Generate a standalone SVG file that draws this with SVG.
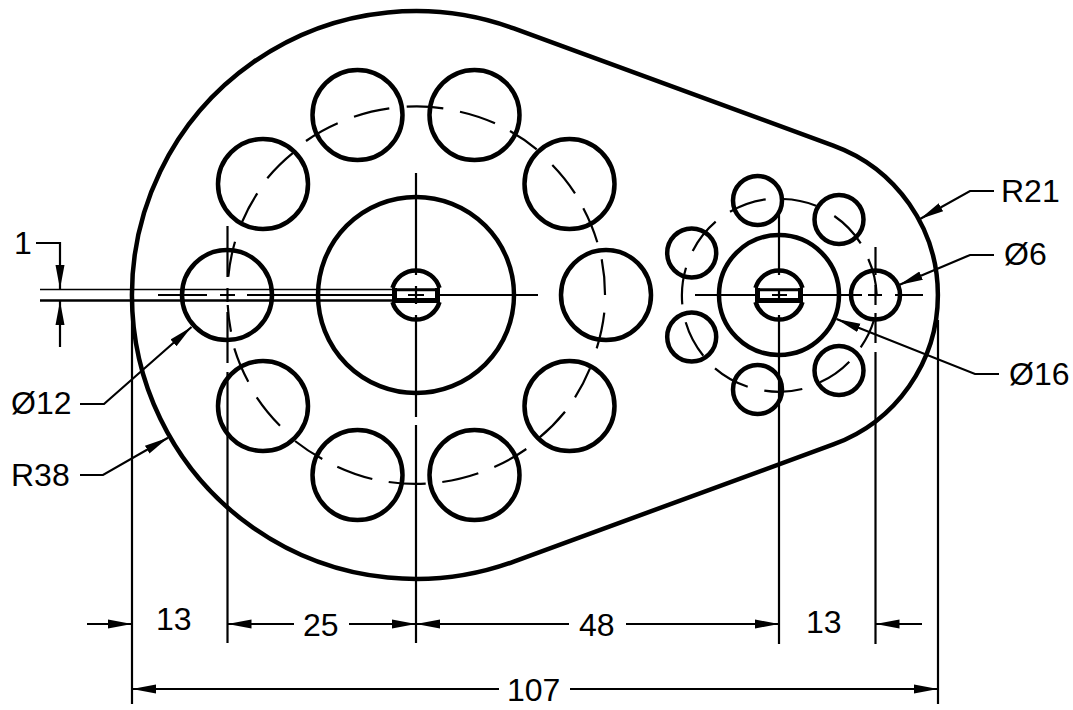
<svg xmlns="http://www.w3.org/2000/svg" width="1073" height="710" viewBox="0 0 1073 710">
<defs>
<marker id="arrow" markerUnits="userSpaceOnUse" markerWidth="26" markerHeight="12" refX="24" refY="6" orient="auto"><path d="M0,1.500 L24,6 L0,10.500 Z" fill="#000"/></marker>
</defs>
<style>
.thick{fill:none;stroke:#000;stroke-width:4.500}
.line{fill:none;stroke:#000;stroke-width:2.200}
.dim{fill:none;stroke:#000;stroke-width:2.200;marker-end:url(#arrow)}
text{font-family:"Liberation Sans",Arial,sans-serif;font-size:32px;fill:#000}
</style>
<rect width="1073" height="710" fill="#fff"/>
<g id="outline"><path class="thick" d="M513.800,28.400 A284,284 0 1 0 513.800,561.600 L833.300,444.400 A159,159 0 0 0 833.300,145.600 Z"/></g>
<g id="large-hub">
<circle class="thick" cx="416" cy="295" r="98"/>
<path class="thick" d="M392.500,288 A24.500,24.500 0 0 1 439.500,288 M392.500,302 A24.500,24.500 0 0 0 439.500,302"/>
<path style="fill:none;stroke:#000;stroke-width:5" d="M394.500,288 V302 M437.500,288 V302 M392,300.500 H440"/>
<path style="fill:none;stroke:#000;stroke-width:3" d="M392,289.800 H440"/>
</g>
<g id="large-holes">
<circle class="thick" cx="606" cy="295" r="45"/><circle class="thick" cx="569.500" cy="184" r="45"/><circle class="thick" cx="474.500" cy="115" r="45"/><circle class="thick" cx="357.500" cy="115" r="45"/><circle class="thick" cx="263" cy="184" r="45"/><circle class="thick" cx="227" cy="295" r="45"/><circle class="thick" cx="263" cy="406" r="45"/><circle class="thick" cx="357.500" cy="475" r="45"/><circle class="thick" cx="474.500" cy="475" r="45"/><circle class="thick" cx="569.500" cy="406" r="45"/>
</g>
<g id="small-hub">
<circle class="thick" cx="779" cy="295" r="60"/>
<path class="thick" d="M755.500,288 A24.500,24.500 0 0 1 802.500,288 M755.500,302 A24.500,24.500 0 0 0 802.500,302"/>
<path style="fill:none;stroke:#000;stroke-width:5" d="M757.500,288 V302 M800.500,288 V302 M755,300.500 H803"/>
<path style="fill:none;stroke:#000;stroke-width:3" d="M755,289.800 H803"/>
</g>
<g id="small-holes">
<circle class="thick" cx="875.500" cy="295" r="24.500"/><circle class="thick" cx="839" cy="219.500" r="24.500"/><circle class="thick" cx="757.500" cy="200.500" r="24.500"/><circle class="thick" cx="691.700" cy="253" r="24.500"/><circle class="thick" cx="691.700" cy="337" r="24.500"/><circle class="thick" cx="757.500" cy="389.500" r="24.500"/><circle class="thick" cx="839" cy="370.500" r="24.500"/>
</g>
<g id="bolt-circles">
<path class="line" d="M605,295 A189,189 0 0 0 601.700,259.300 M597.300,242.300 A189,189 0 0 0 583.300,208.300 M575,193.300 A189,189 0 0 0 552.300,165 M536.700,149.300 A189,189 0 0 0 510,131 M495,123.300 A189,189 0 0 0 460,111.700 M443.300,108.300 A189,189 0 0 0 406.700,106.700 M389.300,108.300 A189,189 0 0 0 354,116.700 M337.700,123.300 A189,189 0 0 0 306,141 M293.300,152.700 A189,189 0 0 0 267.300,178.300 M257.300,193.300 A189,189 0 0 0 241.700,222.700 M235,241.700 A189,189 0 0 0 228.300,276.700 M227.700,305 A189,189 0 0 0 231,331.700 M234.300,348.300 A189,189 0 0 0 248.300,381.700 M256.700,397.300 A189,189 0 0 0 280,425.700 M295,441 A189,189 0 0 0 322.300,459 M337.300,466.700 A189,189 0 0 0 372.300,479 M388.700,482 A189,189 0 0 0 425.700,483.700 M442.300,482 A189,189 0 0 0 478.300,473.300 M494.300,467 A189,189 0 0 0 526.300,449 M539.300,437.700 A189,189 0 0 0 565,411.700 M575,397.300 A189,189 0 0 0 590,368.300 M596.700,348.300 A189,189 0 0 0 604.300,312.700"/>
<path class="line" d="M876.700,295 A96,96 0 0 0 868.300,259 M860.700,243.300 A96,96 0 0 0 834.300,216 M816,205.700 A96,96 0 0 0 783.300,199 M765.700,199.300 A96,96 0 0 0 730,211.700 M715.700,221.700 A96,96 0 0 0 692.700,251 M686,267.700 A96,96 0 0 0 682.300,304.300 M685.700,322.300 A96,96 0 0 0 703.300,355.700 M715,368.300 A96,96 0 0 0 747.700,386.700 M764.300,390.700 A96,96 0 0 0 802.300,389 M820,382.300 A96,96 0 0 0 849.300,361.700 M860.700,347.300 A96,96 0 0 0 874,320"/>
</g>
<g id="centerlines">
<path class="line" d="M158,295 H207 M220,295 H235 M247,295 H393 M408,295 H424 M439,295 H538 M416,173 V275 M416,286 V304 M416,315 V417 M416,425 V643"/>
<path class="line" d="M695,295 H757 M772,295 H787 M801,295 H862 M868,295 H882 M895,295 H923 M779,215 V275 M779,289 V303 M779,315 V644"/>
<path class="line" d="M227.500,226 V277 M227.500,288 V302 M227.500,312 V363 M227.500,372 V643"/>
<path class="line" d="M875.500,247 V275 M875.500,285 V305 M875.500,313 V343 M875.500,352 V644"/>
</g>
<g id="dimension-lines">
<path style="fill:none;stroke:#000;stroke-width:1.500" d="M40,289.500 H393"/>
<path style="fill:none;stroke:#000;stroke-width:2.500" d="M40,300.500 H393"/>
<path class="line" d="M132,300 V704 M938,320 V704"/>
<path class="dim" d="M36,243 H60 V289"/>
<path class="dim" d="M60,347 V301"/>
<path class="dim" d="M87,624 H132"/>
<path class="dim" d="M294,624 H227.500"/>
<path class="dim" d="M349,624 H416"/>
<path class="dim" d="M569,624 H416"/>
<path class="dim" d="M626,624 H779"/>
<path class="dim" d="M922,624 H875.500"/>
<path class="dim" d="M499,689 H132"/>
<path class="dim" d="M570,689 H938"/>
<path class="dim" d="M80,404 H104 L191.500,327"/>
<path class="dim" d="M80,475 H103 L168,437.700"/>
<path class="dim" d="M994,191 H970 L920,219"/>
<path class="dim" d="M994,255 H970 L899,285"/>
<path class="dim" d="M999,374 H975 L836.500,319"/>
</g>
<g id="labels">
<text x="14" y="254">1</text>
<text x="11" y="414">Ø12</text>
<text x="11" y="486">R38</text>
<text x="156" y="630">13</text>
<text x="303" y="636">25</text>
<text x="579" y="636">48</text>
<text x="806" y="633">13</text>
<text x="507" y="701">107</text>
<text x="1001" y="202">R21</text>
<text x="1004" y="265">Ø6</text>
<text x="1009" y="385">Ø16</text>
</g>
</svg>
